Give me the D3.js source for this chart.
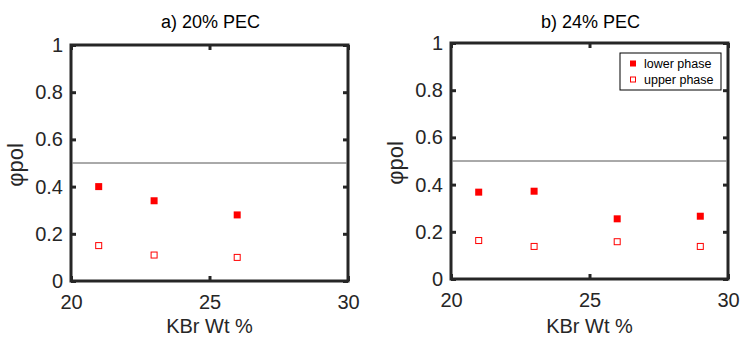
<!DOCTYPE html>
<html>
<head>
<meta charset="utf-8">
<script src="https://cdn.jsdelivr.net/npm/d3@7"></script>
<style>
    body { margin: 0; background: #fff; }
    svg { display: block; font-family: "Liberation Sans", Arial, sans-serif; }
</style>
</head>
<body>
<script>
// data
var titles = ["a) 20% PEC", "b) 24% PEC"];
var kbrA = [21, 23, 26];
var lowerA = [0.40, 0.34, 0.28];
var upperA = [0.15, 0.11, 0.10];
var kbrB = [21, 23, 26, 29];
var lowerB = [0.368, 0.372, 0.255, 0.266];
var upperB = [0.163, 0.138, 0.158, 0.138];
var xTicks = [20, 25, 30];
var yTicks = [0, 0.2, 0.4, 0.6, 0.8, 1];
var refLine = 0.5;
var legendNames = ["lower phase", "upper phase"];

var width = 742;
var height = 337;
var ink = "#262626";

var svg = d3.select("body")
    .append("svg")
    .attr("width", width)
    .attr("height", height);

// box positions of the two axes
var panels = [
    {title: titles[0], x: kbrA, lower: lowerA, upper: upperA, left: 71, right: 348, top: 45, bottom: 281, legend: false},
    {title: titles[1], x: kbrB, lower: lowerB, upper: upperB, left: 451, right: 728, top: 43, bottom: 279, legend: true}
];

panels.forEach(function(p) {
    var x = d3.scaleLinear().domain([20, 30]).range([p.left, p.right]);
    var y = d3.scaleLinear().domain([0, 1]).range([p.bottom, p.top]);
    var g = svg.append("g");

    // axes with inward ticks
    g.append("g")
        .attr("transform", "translate(0," + p.bottom + ")")
        .call(d3.axisBottom(x).tickValues(xTicks).tickSize(-5).tickPadding(14))
        .call(styleAxis);
    g.append("g")
        .attr("transform", "translate(0," + p.top + ")")
        .call(d3.axisTop(x).tickValues(xTicks).tickSize(-5).tickFormat(""))
        .call(styleAxis);
    g.append("g")
        .attr("transform", "translate(" + p.left + ",0)")
        .call(d3.axisLeft(y).tickValues(yTicks).tickSize(-5).tickPadding(8).tickFormat(d3.format("~g")))
        .call(styleAxis);
    g.append("g")
        .attr("transform", "translate(" + p.right + ",0)")
        .call(d3.axisRight(y).tickValues(yTicks).tickSize(-5).tickFormat(""))
        .call(styleAxis);

    // frame
    g.append("rect")
        .attr("x", p.left)
        .attr("y", p.top)
        .attr("width", p.right - p.left)
        .attr("height", p.bottom - p.top)
        .attr("fill", "none")
        .attr("stroke", ink)
        .attr("stroke-width", 3);

    // 0.5 reference line
    g.append("line")
        .attr("x1", p.left + 1.5)
        .attr("x2", p.right - 1.5)
        .attr("y1", y(refLine))
        .attr("y2", y(refLine))
        .attr("stroke", "#555")
        .attr("stroke-width", 1);

    // lower phase (filled)
    g.selectAll(".lower")
        .data(p.x)
        .enter()
        .append("rect")
        .attr("class", "lower")
        .attr("x", function(d) { return x(d) - 3.5; })
        .attr("y", function(d, i) { return y(p.lower[i]) - 3.5; })
        .attr("width", 7)
        .attr("height", 7)
        .attr("fill", "#ff0000");

    // upper phase (open)
    g.selectAll(".upper")
        .data(p.x)
        .enter()
        .append("rect")
        .attr("class", "upper")
        .attr("x", function(d) { return x(d) - 3; })
        .attr("y", function(d, i) { return y(p.upper[i]) - 3; })
        .attr("width", 6)
        .attr("height", 6)
        .attr("fill", "#fff")
        .attr("stroke", "#ff0000")
        .attr("stroke-width", 1);

    // title
    g.append("text")
        .attr("x", (p.left + p.right) / 2 + 1)
        .attr("y", 28)
        .attr("text-anchor", "middle")
        .attr("font-size", 18)
        .attr("fill", "#000")
        .text(p.title);

    // x label
    g.append("text")
        .attr("x", (p.left + p.right) / 2)
        .attr("y", 333)
        .attr("text-anchor", "middle")
        .attr("font-size", 20)
        .attr("fill", ink)
        .text("KBr Wt %");

    // y label
    g.append("text")
        .attr("transform", "translate(" + (p.left - 48) + "," + ((p.top + p.bottom) / 2 + 2) + ") rotate(-90)")
        .attr("text-anchor", "middle")
        .attr("font-size", 22)
        .attr("fill", ink)
        .text("φpol");

    if (p.legend) {
        var lx = 620, ly = 53;
        var leg = g.append("g");
        leg.append("rect")
            .attr("x", lx)
            .attr("y", ly)
            .attr("width", 101)
            .attr("height", 37)
            .attr("fill", "#fff")
            .attr("stroke", "#000")
            .attr("stroke-width", 1);
        legendNames.forEach(function(name, i) {
            var cy = ly + 10.5 + i * 16;
            if (i == 0) {
                leg.append("rect")
                    .attr("x", lx + 10).attr("y", cy - 3)
                    .attr("width", 6).attr("height", 6)
                    .attr("fill", "#ff0000");
            } else {
                leg.append("rect")
                    .attr("x", lx + 10.5).attr("y", cy - 2.5)
                    .attr("width", 5).attr("height", 5)
                    .attr("fill", "#fff")
                    .attr("stroke", "#ff0000");
            }
            leg.append("text")
                .attr("x", lx + 24)
                .attr("y", cy + 4.5)
                .attr("font-size", 12.5)
                .attr("fill", "#000")
                .text(name);
        });
    }
});

function styleAxis(sel) {
    sel.select(".domain").remove();
    sel.selectAll(".tick line").attr("stroke", ink).attr("stroke-width", 3);
    sel.selectAll(".tick text")
        .attr("font-size", 20)
        .attr("fill", ink)
        .attr("font-family", "Liberation Sans, Arial, sans-serif");
}
</script>
</body>
</html>
